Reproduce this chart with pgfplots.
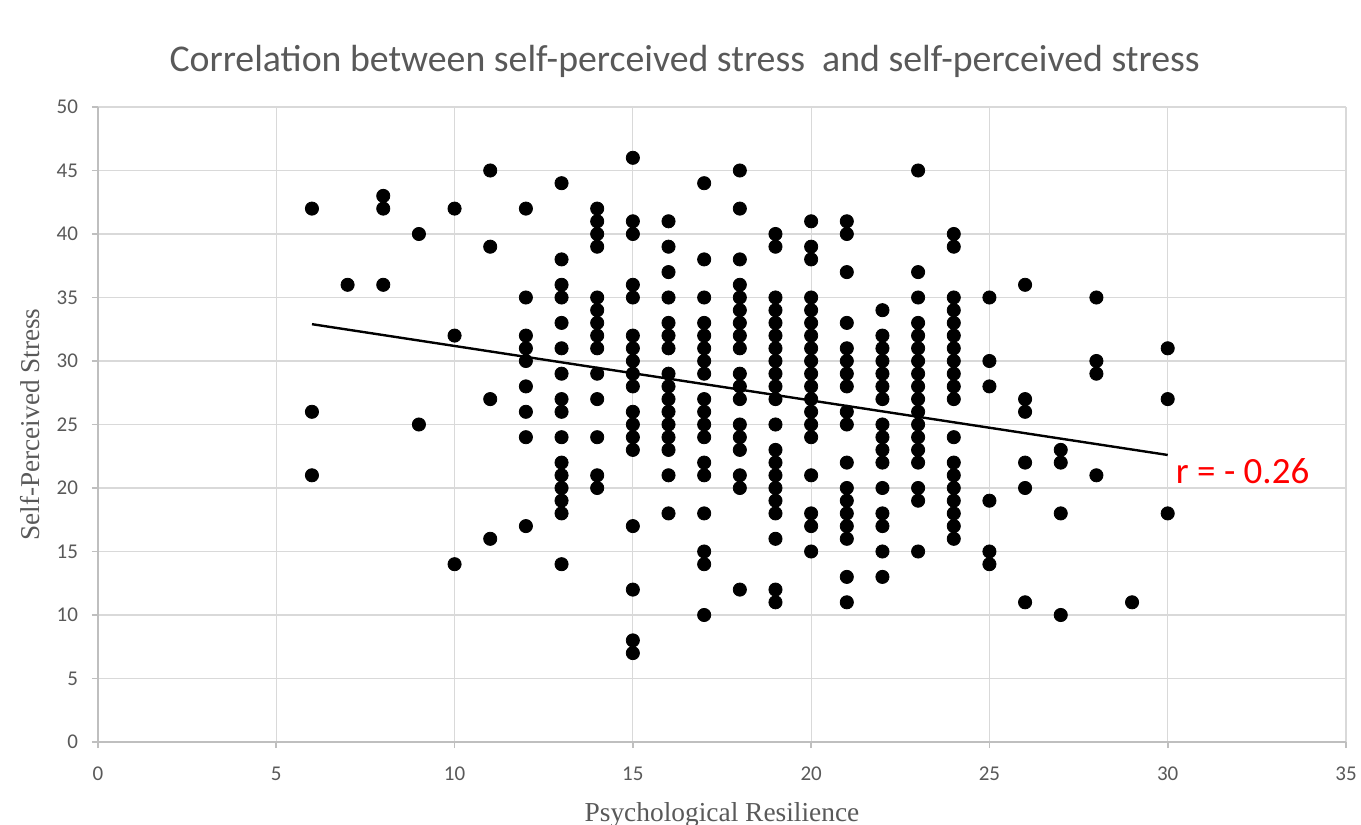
\documentclass[border=0pt]{standalone}
\usepackage{fontspec}
\setmainfont{Carlito}
\newfontfamily\seriffont{Liberation Serif}
\usepackage{pgfplots}
\pgfplotsset{compat=1.18}
\definecolor{txtgray}{HTML}{595959}
\definecolor{gridgray}{HTML}{D9D9D9}
\definecolor{axgray}{HTML}{BFBFBF}
\begin{document}
\begin{tikzpicture}
\useasboundingbox (0,0) rectangle (680.5pt,412.5pt);
\begin{axis}[
  at={(49pt,41.5pt)}, anchor=south west,
  scale only axis, width=624pt, height=317.5pt,
  xmin=0, xmax=35, ymin=0, ymax=50,
  xtick={0,5,...,35}, ytick={0,5,...,50},
  axis lines*=left,
  grid=major, major grid style={gridgray, line width=0.6pt},
  axis line style={axgray, line width=0.8pt},
  tick style={axgray, line width=0.8pt}, tick align=outside, major tick length=3pt,
  ticklabel style={txtgray, font=\fontsize{10.5}{12}\selectfont},
  /pgf/number format/assume math mode=true,
  xticklabel style={yshift=-6pt},
  yticklabel style={xshift=-3.5pt},
  clip=false,
]
\addplot[only marks, mark=*, mark size=3.3pt, mark options={fill=black, draw=black}] table {
x y
6 42
6 26
6 21
7 36
8 43
8 42
8 36
9 40
9 25
10 42
10 32
10 14
11 45
11 39
11 27
11 16
12 42
12 35
12 32
12 31
12 30
12 28
12 26
12 24
12 17
13 44
13 38
13 36
13 35
13 33
13 31
13 29
13 27
13 26
13 24
13 22
13 21
13 20
13 19
13 18
13 14
14 42
14 41
14 40
14 39
14 35
14 34
14 33
14 32
14 31
14 29
14 27
14 24
14 21
14 20
15 46
15 41
15 40
15 36
15 35
15 32
15 31
15 30
15 29
15 28
15 26
15 25
15 24
15 23
15 17
15 12
15 8
15 7
16 41
16 39
16 37
16 35
16 33
16 32
16 31
16 29
16 28
16 27
16 26
16 25
16 24
16 23
16 21
16 18
17 44
17 38
17 35
17 33
17 32
17 31
17 30
17 29
17 27
17 26
17 25
17 24
17 22
17 21
17 18
17 15
17 14
17 10
18 45
18 42
18 38
18 36
18 35
18 34
18 33
18 32
18 31
18 29
18 28
18 27
18 25
18 24
18 23
18 21
18 20
18 12
19 40
19 39
19 35
19 34
19 33
19 32
19 31
19 30
19 29
19 28
19 27
19 25
19 23
19 22
19 21
19 20
19 19
19 18
19 16
19 12
19 11
20 41
20 39
20 38
20 35
20 34
20 33
20 32
20 31
20 30
20 29
20 28
20 27
20 26
20 25
20 24
20 21
20 18
20 17
20 15
21 41
21 40
21 37
21 33
21 31
21 30
21 29
21 28
21 26
21 25
21 22
21 20
21 19
21 18
21 17
21 16
21 13
21 11
22 34
22 32
22 31
22 30
22 29
22 28
22 27
22 25
22 24
22 23
22 22
22 20
22 18
22 17
22 15
22 13
23 45
23 37
23 35
23 33
23 32
23 31
23 30
23 29
23 28
23 27
23 26
23 25
23 24
23 23
23 22
23 20
23 19
23 15
24 40
24 39
24 35
24 34
24 33
24 32
24 31
24 30
24 29
24 28
24 27
24 24
24 22
24 21
24 20
24 19
24 18
24 17
24 16
25 35
25 30
25 28
25 19
25 15
25 14
26 36
26 27
26 26
26 22
26 20
26 11
27 23
27 22
27 18
27 10
28 35
28 30
28 29
28 21
29 11
30 31
30 27
30 18
};
\addplot[black, line width=1.2pt, no marks] coordinates {(6,32.9) (30,22.6)};
\node[anchor=west, text=red, font=\fontsize{18.5}{20}\selectfont, inner sep=0pt] at (axis cs:30.22,21.3) {r = - 0.26};
\node[text=txtgray, font=\fontsize{18.9}{22}\selectfont] at (axis description cs:0.470,1.072) {Correlation between self-perceived stress\ \ and self-perceived stress};
\node[text=txtgray, font=\seriffont\fontsize{13.7}{16}\selectfont] at (axis description cs:0.5,-0.115) {Psychological Resilience};
\node[text=txtgray, rotate=90, font=\seriffont\fontsize{13.6}{16}\selectfont] at (axis description cs:-0.0545,0.5) {Self-Perceived Stress};
\end{axis}
\end{tikzpicture}
\end{document}
